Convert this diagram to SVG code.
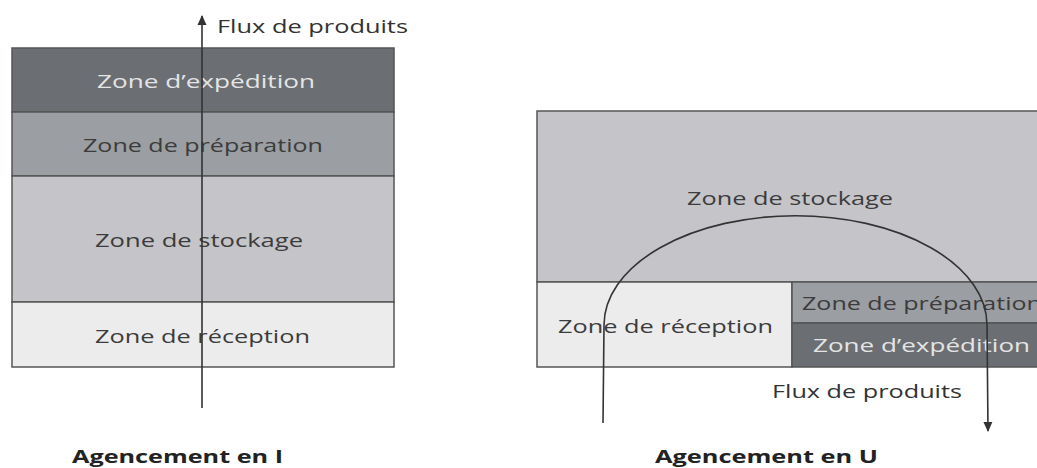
<svg xmlns="http://www.w3.org/2000/svg" width="1037" height="468" viewBox="0 0 1037 468">
<defs>
<marker id="ah" viewBox="0 0 10 10" refX="9" refY="5" markerWidth="10" markerHeight="10" markerUnits="userSpaceOnUse" orient="auto">
<path d="M0,0.5 L10,5 L0,9.5 z" fill="#333"/>
</marker>
<style>
.z{stroke:#555;stroke-width:1.5}
.exp{fill:#6b6e72}
.pre{fill:#9b9ea2}
.sto{fill:#c5c5c9}
.rec{fill:#ececec}
text{font-family:"Open Sans","Liberation Sans",sans-serif;font-size:18px;fill:#3c3c3c}
.lt{fill:#e4e4e4}
.t{font-weight:bold;fill:#222;font-size:17px}
.flow{fill:none;stroke:#333;stroke-width:1.6}
</style>
</defs>
<rect width="1037" height="468" fill="#fff"/>
<g id="layout-I">
<g id="i-expedition"><rect class="z exp" x="12" y="48" width="382" height="64"/><text class="lt" x="97" y="88" textLength="218" lengthAdjust="spacingAndGlyphs">Zone d’expédition</text></g>
<g id="i-preparation"><rect class="z pre" x="12" y="112" width="382" height="64"/><text x="83" y="152" textLength="240" lengthAdjust="spacingAndGlyphs">Zone de préparation</text></g>
<g id="i-stockage"><rect class="z sto" x="12" y="176" width="382" height="126"/><text x="95" y="247" textLength="208" lengthAdjust="spacingAndGlyphs">Zone de stockage</text></g>
<g id="i-reception"><rect class="z rec" x="12" y="302" width="382" height="65"/><text x="95" y="343" textLength="215" lengthAdjust="spacingAndGlyphs">Zone de réception</text></g>
<text x="217" y="33" textLength="191" lengthAdjust="spacingAndGlyphs" style="fill:#333">Flux de produits</text>
<text class="t" x="72" y="463" textLength="211" lengthAdjust="spacingAndGlyphs">Agencement en I</text>
</g>
<g id="layout-U">
<g id="u-stockage"><rect class="z sto" x="537" y="111" width="502" height="171"/><text x="687" y="205" textLength="206" lengthAdjust="spacingAndGlyphs">Zone de stockage</text></g>
<g id="u-reception"><rect class="z rec" x="537" y="282" width="255" height="85"/><text x="558" y="333" textLength="215" lengthAdjust="spacingAndGlyphs">Zone de réception</text></g>
<g id="u-preparation"><rect class="z pre" x="792" y="282" width="247" height="41"/><text x="802" y="310" textLength="240" lengthAdjust="spacingAndGlyphs">Zone de préparation</text></g>
<g id="u-expedition"><rect class="z exp" x="792" y="323" width="247" height="44"/><text class="lt" x="813" y="352" textLength="217" lengthAdjust="spacingAndGlyphs">Zone d’expédition</text></g>
<text x="772" y="398" textLength="190" lengthAdjust="spacingAndGlyphs" style="fill:#333">Flux de produits</text>
<text class="t" x="655" y="463" textLength="223" lengthAdjust="spacingAndGlyphs">Agencement en U</text>
</g>
<g id="connectors">
<path class="flow" d="M202,408 L202,16" marker-end="url(#ah)"/>
<path class="flow" d="M603,423 L604,325 A191,109 0 0 1 987,325 L988,431" marker-end="url(#ah)"/>
</g>
</svg>
